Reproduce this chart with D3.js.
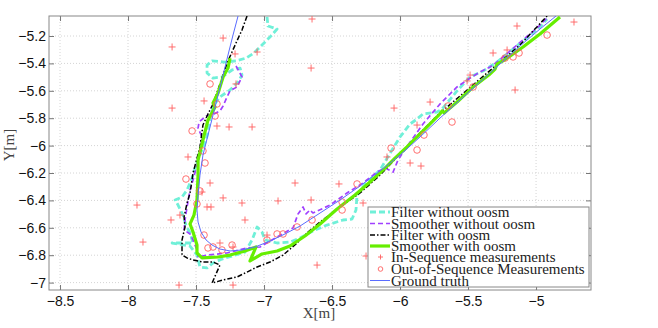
<!DOCTYPE html>
<html>
<head>
<meta charset="utf-8">
<script src="https://cdn.jsdelivr.net/npm/d3@7"></script>
<style>
    body { margin: 0; background: #fff; }
    .tick text { font-family: "Liberation Sans", Arial, sans-serif; font-size: 14px; fill: #111; }
    .label { font-family: "Liberation Serif", "Times New Roman", serif; font-size: 15px; fill: #444; }
    .legend text { font-family: "Liberation Serif", "Times New Roman", serif; font-size: 15px; fill: #222; }
</style>
</head>
<body>
<div class="div-plot"></div>
<script>

// DATA

var xTicks = [-8.5, -8, -7.5, -7, -6.5, -6, -5.5, -5];
var yTicks = [-7, -6.8, -6.6, -6.4, -6.2, -6, -5.8, -5.6, -5.4, -5.2];

var legendLabels = ["Filter without oosm", "Smoother without oosm", "Filter with oosm", "Smoother with oosm",
    "In-Sequence measurements", "Out-of-Sequence Measurements", "Ground truth"];

// filter without oosm (cyan)
var filterNoOosm = [[-6.978,-5.061],[-6.971,-5.127],[-6.904,-5.149],[-6.949,-5.200],[-7.015,-5.266],[-7.074,-5.324],
    [-7.132,-5.361],[-7.206,-5.382],[-7.294,-5.390],[-7.382,-5.382],[-7.419,-5.412],[-7.419,-5.470],[-7.375,-5.507],
    [-7.309,-5.499],[-7.235,-5.448],[-7.176,-5.434],[-7.162,-5.485],[-7.191,-5.536],[-7.250,-5.594],[-7.324,-5.645],
    [-7.368,-5.704],[-7.397,-5.799],[-7.412,-5.901],[-7.426,-5.959],[-7.463,-6.047],[-7.500,-6.142],[-7.529,-6.236],
    [-7.566,-6.324],[-7.603,-6.375],[-7.654,-6.397],[-7.632,-6.434],[-7.596,-6.507],[-7.574,-6.580],[-7.544,-6.638],
    [-7.522,-6.711],[-7.676,-6.711],[-7.544,-6.733],[-7.493,-6.799],[-7.471,-6.886],[-7.419,-6.893],[-7.375,-6.857],
    [-7.309,-6.828],[-7.235,-6.806],[-7.140,-6.777],[-7.088,-6.689],[-7.051,-6.594],[-7.015,-6.631],[-6.993,-6.689],
    [-6.904,-6.711],[-6.809,-6.704],[-6.735,-6.674],[-6.640,-6.623],[-6.537,-6.580],[-6.419,-6.543],[-6.353,-6.536],
    [-6.324,-6.470],[-6.316,-6.361],[-6.257,-6.280],[-6.147,-6.178],[-6.059,-6.032],[-6.000,-5.937],[-5.926,-5.842],
    [-5.875,-5.806],[-5.831,-5.769],[-5.728,-5.755],[-5.691,-5.733],[-5.581,-5.601],[-5.485,-5.499],[-5.390,-5.456],
    [-5.287,-5.390],[-5.213,-5.331],[-5.096,-5.236],[-4.971,-5.134],[-4.919,-5.076]];

// smoother without oosm (purple)
var smootherNoOosm = [[-7.206,-5.419],[-7.162,-5.499],[-7.199,-5.572],[-7.250,-5.601],[-7.272,-5.645],[-7.301,-5.711],
    [-7.324,-5.747],[-7.368,-5.769],[-7.426,-5.784],[-7.478,-5.828],[-7.485,-5.872],[-7.456,-5.937],[-7.471,-6.054],
    [-7.493,-6.142],[-7.522,-6.251],[-7.544,-6.324],[-7.566,-6.448],[-7.581,-6.543],[-7.588,-6.616],[-7.544,-6.645],
    [-7.522,-6.689],[-7.493,-6.762],[-7.485,-6.813],[-7.419,-6.799],[-7.272,-6.784],[-7.125,-6.747],[-7.029,-6.740],
    [-6.904,-6.667],[-6.787,-6.601],[-6.750,-6.499],[-6.713,-6.448],[-6.691,-6.499],[-6.662,-6.470],[-6.640,-6.492],
    [-6.515,-6.434],[-6.390,-6.346],[-6.272,-6.273],[-6.169,-6.193],[-6.110,-6.164],[-6.051,-6.193],[-6.015,-6.105],
    [-5.926,-5.974],[-5.831,-5.842],[-5.706,-5.696],[-5.581,-5.572],[-5.485,-5.507],[-5.412,-5.463],[-5.338,-5.426],
    [-5.287,-5.390],[-5.140,-5.266],[-4.993,-5.142],[-4.919,-5.069]];

// filter with oosm (black dash-dot)
var filterOosm = [[-7.125,-5.054],[-7.162,-5.156],[-7.199,-5.236],[-7.265,-5.382],[-7.324,-5.550],[-7.375,-5.696],
    [-7.412,-5.769],[-7.449,-5.850],[-7.471,-6.010],[-7.522,-6.200],[-7.544,-6.346],[-7.566,-6.419],[-7.588,-6.521],
    [-7.581,-6.594],[-7.603,-6.689],[-7.603,-6.799],[-7.566,-6.820],[-7.522,-6.835],[-7.449,-6.850],[-7.375,-6.850],
    [-7.324,-6.872],[-7.353,-6.937],[-7.382,-7.003],[-7.301,-6.981],[-7.199,-6.959],[-7.125,-6.923],[-7.051,-6.886],
    [-6.956,-6.850],[-6.860,-6.799],[-6.757,-6.711],[-6.684,-6.638],[-6.588,-6.558],[-6.441,-6.448],[-6.294,-6.346],
    [-6.147,-6.215],[-6.000,-6.061],[-5.853,-5.908],[-5.706,-5.762],[-5.559,-5.638],[-5.412,-5.514],[-5.265,-5.390],
    [-5.118,-5.266],[-4.919,-5.054]];

// smoother with oosm (green)
var smootherOosm = [[-7.250,-5.361],[-7.265,-5.434],[-7.301,-5.499],[-7.338,-5.616],[-7.375,-5.689],[-7.360,-5.718],
    [-7.412,-5.813],[-7.449,-5.959],[-7.485,-6.105],[-7.485,-6.215],[-7.493,-6.397],[-7.515,-6.507],[-7.544,-6.572],
    [-7.522,-6.631],[-7.493,-6.726],[-7.493,-6.784],[-7.456,-6.820],[-7.338,-6.813],[-7.250,-6.799],[-7.140,-6.769],
    [-7.059,-6.740],[-7.103,-6.842],[-7.015,-6.791],[-6.904,-6.769],[-6.809,-6.733],[-6.699,-6.660],[-6.588,-6.572],
    [-6.463,-6.463],[-6.331,-6.361],[-6.221,-6.266],[-6.110,-6.164],[-6.037,-6.091],[-5.949,-6.010],[-5.831,-5.893],
    [-5.706,-5.769],[-5.691,-5.747],[-5.676,-5.762],[-5.581,-5.682],[-5.463,-5.572],[-5.338,-5.477],[-5.301,-5.441],
    [-5.287,-5.404],[-5.243,-5.382],[-5.096,-5.280],[-4.971,-5.185],[-4.824,-5.061]];

// in-sequence measurements (+)
var inSeq = [[-6.647,-5.076],[-7.676,-5.280],[-7.301,-5.215],[-7.213,-5.331],[-7.051,-5.317],[-6.654,-5.434],
    [-7.676,-5.726],[-7.206,-5.550],[-7.441,-5.674],[-7.346,-5.857],[-7.257,-5.864],[-7.088,-5.864],[-7.559,-6.083],
    [-7.397,-6.273],[-7.456,-6.339],[-7.301,-6.382],[-7.162,-6.419],[-7.419,-6.448],[-7.390,-6.448],[-7.684,-6.543],
    [-7.618,-6.507],[-7.934,-6.434],[-7.890,-6.704],[-7.625,-7.018],[-7.228,-7.018],[-6.772,-6.273],[-6.449,-6.280],
    [-6.897,-6.404],[-6.654,-6.397],[-7.140,-6.543],[-7.324,-6.711],[-7.228,-6.740],[-6.978,-6.653],[-6.610,-6.872],
    [-6.250,-6.806],[-6.272,-6.419],[-6.044,-5.726],[-5.779,-5.682],[-5.875,-5.850],[-6.096,-6.083],[-5.926,-6.127],
    [-5.846,-6.149],[-5.485,-5.485],[-5.507,-5.528],[-5.316,-5.324],[-5.213,-5.302],[-5.154,-5.594],[-5.140,-5.127],
    [-4.721,-5.098]];

// out-of-sequence measurements (o)
var outSeq = [[-7.397,-5.550],[-7.346,-5.696],[-7.360,-5.784],[-7.529,-5.893],[-7.449,-6.039],[-7.434,-6.127],
    [-7.574,-6.244],[-7.471,-6.331],[-7.493,-6.426],[-7.441,-6.653],[-7.412,-6.747],[-7.375,-6.740],[-7.309,-6.762],
    [-7.235,-6.726],[-6.978,-6.689],[-6.904,-6.645],[-6.860,-6.645],[-6.757,-6.594],[-6.647,-6.543],[-6.426,-6.470],
    [-6.426,-6.412],[-6.316,-6.280],[-6.066,-6.018],[-5.875,-6.032],[-5.824,-5.923],[-5.647,-5.711],[-5.618,-5.828],
    [-5.463,-5.572],[-5.228,-5.361],[-5.169,-5.353],[-5.125,-5.324],[-4.919,-5.193]];

// ground truth (blue)
var groundTruth = [[-7.191,-5.054],[-7.228,-5.193],[-7.265,-5.339],[-7.301,-5.485],[-7.338,-5.631],[-7.375,-5.777],
    [-7.412,-5.923],[-7.449,-6.069],[-7.471,-6.215],[-7.485,-6.361],[-7.493,-6.470],[-7.485,-6.558],[-7.463,-6.631],
    [-7.426,-6.689],[-7.382,-6.726],[-7.324,-6.755],[-7.250,-6.769],[-7.162,-6.762],[-7.066,-6.740],[-6.956,-6.697],
    [-6.846,-6.645],[-6.735,-6.587],[-6.588,-6.492],[-6.441,-6.397],[-6.294,-6.295],[-6.147,-6.185],[-6.000,-6.069],
    [-5.853,-5.937],[-5.706,-5.799],[-5.559,-5.667],[-5.412,-5.536],[-5.265,-5.404],[-5.118,-5.273],[-4.971,-5.149],
    [-4.853,-5.054]];

// VISUALIZATION

function draw() {

    var width = 658;
    var height = 328;
    var plotLeft = 49, plotRight = 591, plotTop = 16, plotBottom = 290;

    var svg = d3.select(".div-plot").append("svg")
        .attr("width", width)
        .attr("height", height);

    var x_scale = d3.scaleLinear().domain([-8.581, -4.596]).range([plotLeft, plotRight]);
    var y_scale = d3.scaleLinear().domain([-7.054, -5.054]).range([plotBottom, plotTop]);

    // grid
    svg.append("g").selectAll("line")
        .data(xTicks)
        .join("line")
        .attr("x1", d => x_scale(d)).attr("x2", d => x_scale(d))
        .attr("y1", plotTop).attr("y2", plotBottom)
        .attr("stroke", "#d4d4d4").attr("stroke-dasharray", "1,2");

    svg.append("g").selectAll("line")
        .data(yTicks)
        .join("line")
        .attr("y1", d => y_scale(d)).attr("y2", d => y_scale(d))
        .attr("x1", plotLeft).attr("x2", plotRight)
        .attr("stroke", "#d4d4d4").attr("stroke-dasharray", "1,2");

    // axes, ticks pointing inward on all sides
    var fmt = d3.format("");
    svg.append("g")
        .attr("transform", "translate(0," + plotBottom + ")")
        .call(d3.axisBottom(x_scale).tickValues(xTicks).tickFormat(fmt).tickSize(-5).tickPadding(6));
    svg.append("g")
        .attr("transform", "translate(" + plotLeft + ",0)")
        .call(d3.axisLeft(y_scale).tickValues(yTicks).tickFormat(fmt).tickSize(-5).tickPadding(3));
    svg.append("g")
        .attr("transform", "translate(0," + plotTop + ")")
        .call(d3.axisTop(x_scale).tickValues(xTicks).tickFormat("").tickSize(-5));
    svg.append("g")
        .attr("transform", "translate(" + plotRight + ",0)")
        .call(d3.axisRight(y_scale).tickValues(yTicks).tickFormat("").tickSize(-5));

    svg.selectAll(".domain").remove();
    svg.selectAll(".tick line").attr("stroke", "#777");

    svg.append("rect")
        .attr("x", plotLeft).attr("y", plotTop)
        .attr("width", plotRight - plotLeft).attr("height", plotBottom - plotTop)
        .attr("fill", "none").attr("stroke", "#888");

    svg.append("text")
        .attr("class", "label")
        .attr("x", 319).attr("y", 318)
        .attr("text-anchor", "middle")
        .text("X[m]");

    svg.append("text")
        .attr("class", "label")
        .attr("transform", "translate(14,145) rotate(-90)")
        .attr("text-anchor", "middle")
        .text("Y[m]");

    // plot area clip
    svg.append("clipPath").attr("id", "clip")
        .append("rect")
        .attr("x", plotLeft).attr("y", plotTop)
        .attr("width", plotRight - plotLeft).attr("height", plotBottom - plotTop);

    var plot = svg.append("g").attr("clip-path", "url(#clip)");

    var line = d3.line()
        .x(d => x_scale(d[0]))
        .y(d => y_scale(d[1]));

    var styles = [
        { data: filterNoOosm, color: "#70f0d8", width: 2.8, dash: "6,3" },
        { data: smootherNoOosm, color: "#a040ff", width: 1.7, dash: "5,3" },
        { data: filterOosm, color: "#000", width: 1.5, dash: "5,2,1.5,2" },
        { data: smootherOosm, color: "#66ee00", width: 3.2, dash: null }
    ];

    styles.forEach(s => {
        plot.append("path")
            .attr("d", line(s.data))
            .attr("fill", "none")
            .attr("stroke", s.color)
            .attr("stroke-width", s.width)
            .attr("stroke-dasharray", s.dash)
            .attr("stroke-linejoin", "round");
    });

    var red = "#ff6060";

    plot.selectAll("path.plus")
        .data(inSeq)
        .join("path")
        .attr("class", "plus")
        .attr("d", d => "M" + (x_scale(d[0]) - 3.5) + "," + y_scale(d[1]) + "h7M" + x_scale(d[0]) + "," + (y_scale(d[1]) - 3.5) + "v7")
        .attr("stroke", red).attr("stroke-width", 0.9);

    plot.selectAll("circle.oosm")
        .data(outSeq)
        .join("circle")
        .attr("class", "oosm")
        .attr("cx", d => x_scale(d[0]))
        .attr("cy", d => y_scale(d[1]))
        .attr("r", 3.3)
        .attr("fill", "none")
        .attr("stroke", red).attr("stroke-width", 0.9);

    plot.append("path")
        .attr("d", line(groundTruth))
        .attr("fill", "none")
        .attr("stroke", "#5a6cff")
        .attr("stroke-width", 1);

    // LEGEND

    var legend = svg.append("g").attr("class", "legend");
    legend.append("rect")
        .attr("x", 368).attr("y", 207)
        .attr("width", 221).attr("height", 80)
        .attr("fill", "#fff").attr("stroke", "#888");

    var rowY = [212, 223.5, 235, 246, 257, 269, 280.5];

    legendLabels.forEach((label, i) => {
        var y = rowY[i];
        if (i < 4) {
            var s = styles[i];
            legend.append("line")
                .attr("x1", 370).attr("x2", 390).attr("y1", y).attr("y2", y)
                .attr("stroke", s.color).attr("stroke-width", s.width)
                .attr("stroke-dasharray", s.dash);
        } else if (i == 4) {
            legend.append("path")
                .attr("d", "M378," + y + "h5M380.5," + (y - 2.5) + "v5")
                .attr("stroke", red).attr("stroke-width", 0.9);
        } else if (i == 5) {
            legend.append("circle")
                .attr("cx", 380.5).attr("cy", y).attr("r", 2.3)
                .attr("fill", "none").attr("stroke", red).attr("stroke-width", 0.9);
        } else {
            legend.append("line")
                .attr("x1", 370).attr("x2", 390).attr("y1", y).attr("y2", y)
                .attr("stroke", "#5a6cff").attr("stroke-width", 1);
        }
        legend.append("text")
            .attr("x", 391).attr("y", y + 5)
            .text(label);
    });
}

draw();

</script>
</body>
</html>
